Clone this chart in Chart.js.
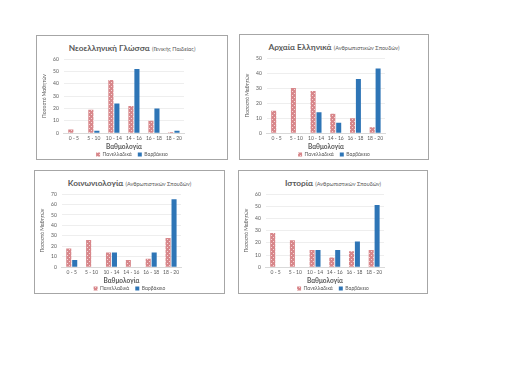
<!DOCTYPE html>
<html>
<head>
<meta charset="utf-8">
<script src="https://cdn.jsdelivr.net/npm/chart.js@4"></script>
<style>
  body { margin: 0; background: #fff; width: 516px; height: 365px; position: relative; overflow: hidden; font-family: Lato, "Open Sans", sans-serif; }
  .box { position: absolute; border: 1px solid #a6a6a6; background: #fff; }
  .box canvas { position: absolute; left: 0; top: 0; }
  .titlos { position: absolute; left: 0; right: 0; top: 8px; text-align: center; color: #595959; white-space: nowrap; font-size: 8.5px; line-height: 1; }
  .titlos b { font-size: 8.3px; }
  .titlos span { font-size: 5.5px; }
</style>
</head>
<body>
<div class="box" id="b1" style="left:36px;top:35px;width:190px;height:123px">
  <div class="titlos"><b>Νεοελληνική Γλώσσα</b> <span>(Γενικής Παιδείας)</span></div>
  <canvas id="c1"></canvas>
</div>
<div class="box" id="b2" style="left:239px;top:34px;width:188px;height:124px">
  <div class="titlos"><b>Αρχαία Ελληνικά</b> <span>(Ανθρωπιστικών Σπουδών)</span></div>
  <canvas id="c2"></canvas>
</div>
<div class="box" id="b3" style="left:34px;top:170px;width:189px;height:122px">
  <div class="titlos"><b>Κοινωνιολογία</b> <span>(Ανθρωπιστικών Σπουδών)</span></div>
  <canvas id="c3"></canvas>
</div>
<div class="box" id="b4" style="left:238px;top:170px;width:188px;height:122px">
  <div class="titlos"><b>Ιστορία</b> <span>(Ανθρωπιστικών Σπουδών)</span></div>
  <canvas id="c4"></canvas>
</div>
<script>
const katigories = ['0 - 5', '5 - 10', '10 - 14', '14 - 16', '16 - 18', '18 - 20'];

const panNeoellinika = [3, 19, 43, 22, 10, 1];
const varvNeoellinika = [0, 2, 24, 52, 20, 2];

const panArxaia = [15, 30, 28, 13, 10, 4];
const varvArxaia = [0, 0, 14, 7, 36, 43];

const panKoinoniologia = [18, 26, 14, 7, 8, 28];
const varvKoinoniologia = [7, 0, 14, 0, 14, 65];

const panIstoria = [28, 22, 14, 8, 13, 14];
const varvIstoria = [0, 0, 14, 14, 21, 51];

const yMegisto = [60, 50, 70, 60];
const yVima = [10, 5, 10, 10];

function roziPattern() {
    const c = document.createElement('canvas');
    c.width = 4; c.height = 4;
    const ctx = c.getContext('2d');
    ctx.fillStyle = '#d8878b';
    ctx.fillRect(0, 0, 4, 4);
    ctx.fillStyle = '#f4d6d7';
    ctx.fillRect(0, 0, 1, 1);
    ctx.fillRect(2, 2, 1, 1);
    return ctx.createPattern(c, 'repeat');
}

function ftiakseGrafima(id, pan, varv, max, vima) {
    const canvas = document.getElementById(id);
    const box = canvas.parentElement;
    canvas.style.width = box.clientWidth + 'px';
    canvas.style.height = box.clientHeight + 'px';
    canvas.width = box.clientWidth;
    canvas.height = box.clientHeight;

    const config = {
        type: 'bar',
        data: {
            labels: katigories,
            datasets: [{
                label: 'Πανελλαδικά',
                data: pan,
                backgroundColor: roziPattern(),
                categoryPercentage: 0.6,
                barPercentage: 0.85
            }, {
                label: 'Βαρβάκειο',
                data: varv,
                backgroundColor: '#2e75b6',
                categoryPercentage: 0.6,
                barPercentage: 0.85
            }]
        },
        options: {
            responsive: false,
            maintainAspectRatio: false,
            animation: false,
            devicePixelRatio: 1,
            layout: { padding: { top: 23, right: 3, left: 3, bottom: -8 } },
            plugins: {
                legend: {
                    position: 'bottom',
                    labels: {
                        boxWidth: 4, boxHeight: 4, padding: 6,
                        color: '#595959',
                        font: { size: 5, family: 'Lato' }
                    }
                },
                tooltip: { enabled: false }
            },
            scales: {
                x: {
                    grid: { display: false, drawTicks: false, tickLength: 0 },
                    border: { color: '#d9d9d9' },
                    ticks: { color: '#595959', font: { size: 5, family: 'Lato' }, padding: 2, maxRotation: 0 },
                    title: { display: true, text: 'Βαθμολογία', color: '#595959', padding: { top: 0, bottom: -5 }, font: { size: 6.5, weight: 'bold', family: 'Lato' } }
                },
                y: {
                    min: 0, max: max,
                    grid: { color: '#e6e6e6', lineWidth: 0.7, drawTicks: false, tickLength: 0 },
                    border: { display: false },
                    ticks: { stepSize: vima, color: '#595959', font: { size: 5, family: 'Lato' }, padding: 5 },
                    title: { display: true, text: 'Ποσοστό Μαθητών', color: '#595959', padding: 1, font: { size: 5, family: 'Lato' } }
                },
                // κενός χώρος δεξιά, για να μένει το υπόμνημα στο κέντρο του πλαισίου
                keno: {
                    type: 'linear',
                    position: 'right',
                    grid: { display: false },
                    border: { display: false },
                    ticks: { display: false },
                    afterFit(scale) { scale.width = 40; }
                }
            }
        }
    };

    new Chart(canvas, config);
}

ftiakseGrafima('c1', panNeoellinika, varvNeoellinika, yMegisto[0], yVima[0]);
ftiakseGrafima('c2', panArxaia, varvArxaia, yMegisto[1], yVima[1]);
ftiakseGrafima('c3', panKoinoniologia, varvKoinoniologia, yMegisto[2], yVima[2]);
ftiakseGrafima('c4', panIstoria, varvIstoria, yMegisto[3], yVima[3]);
</script>
</body>
</html>
